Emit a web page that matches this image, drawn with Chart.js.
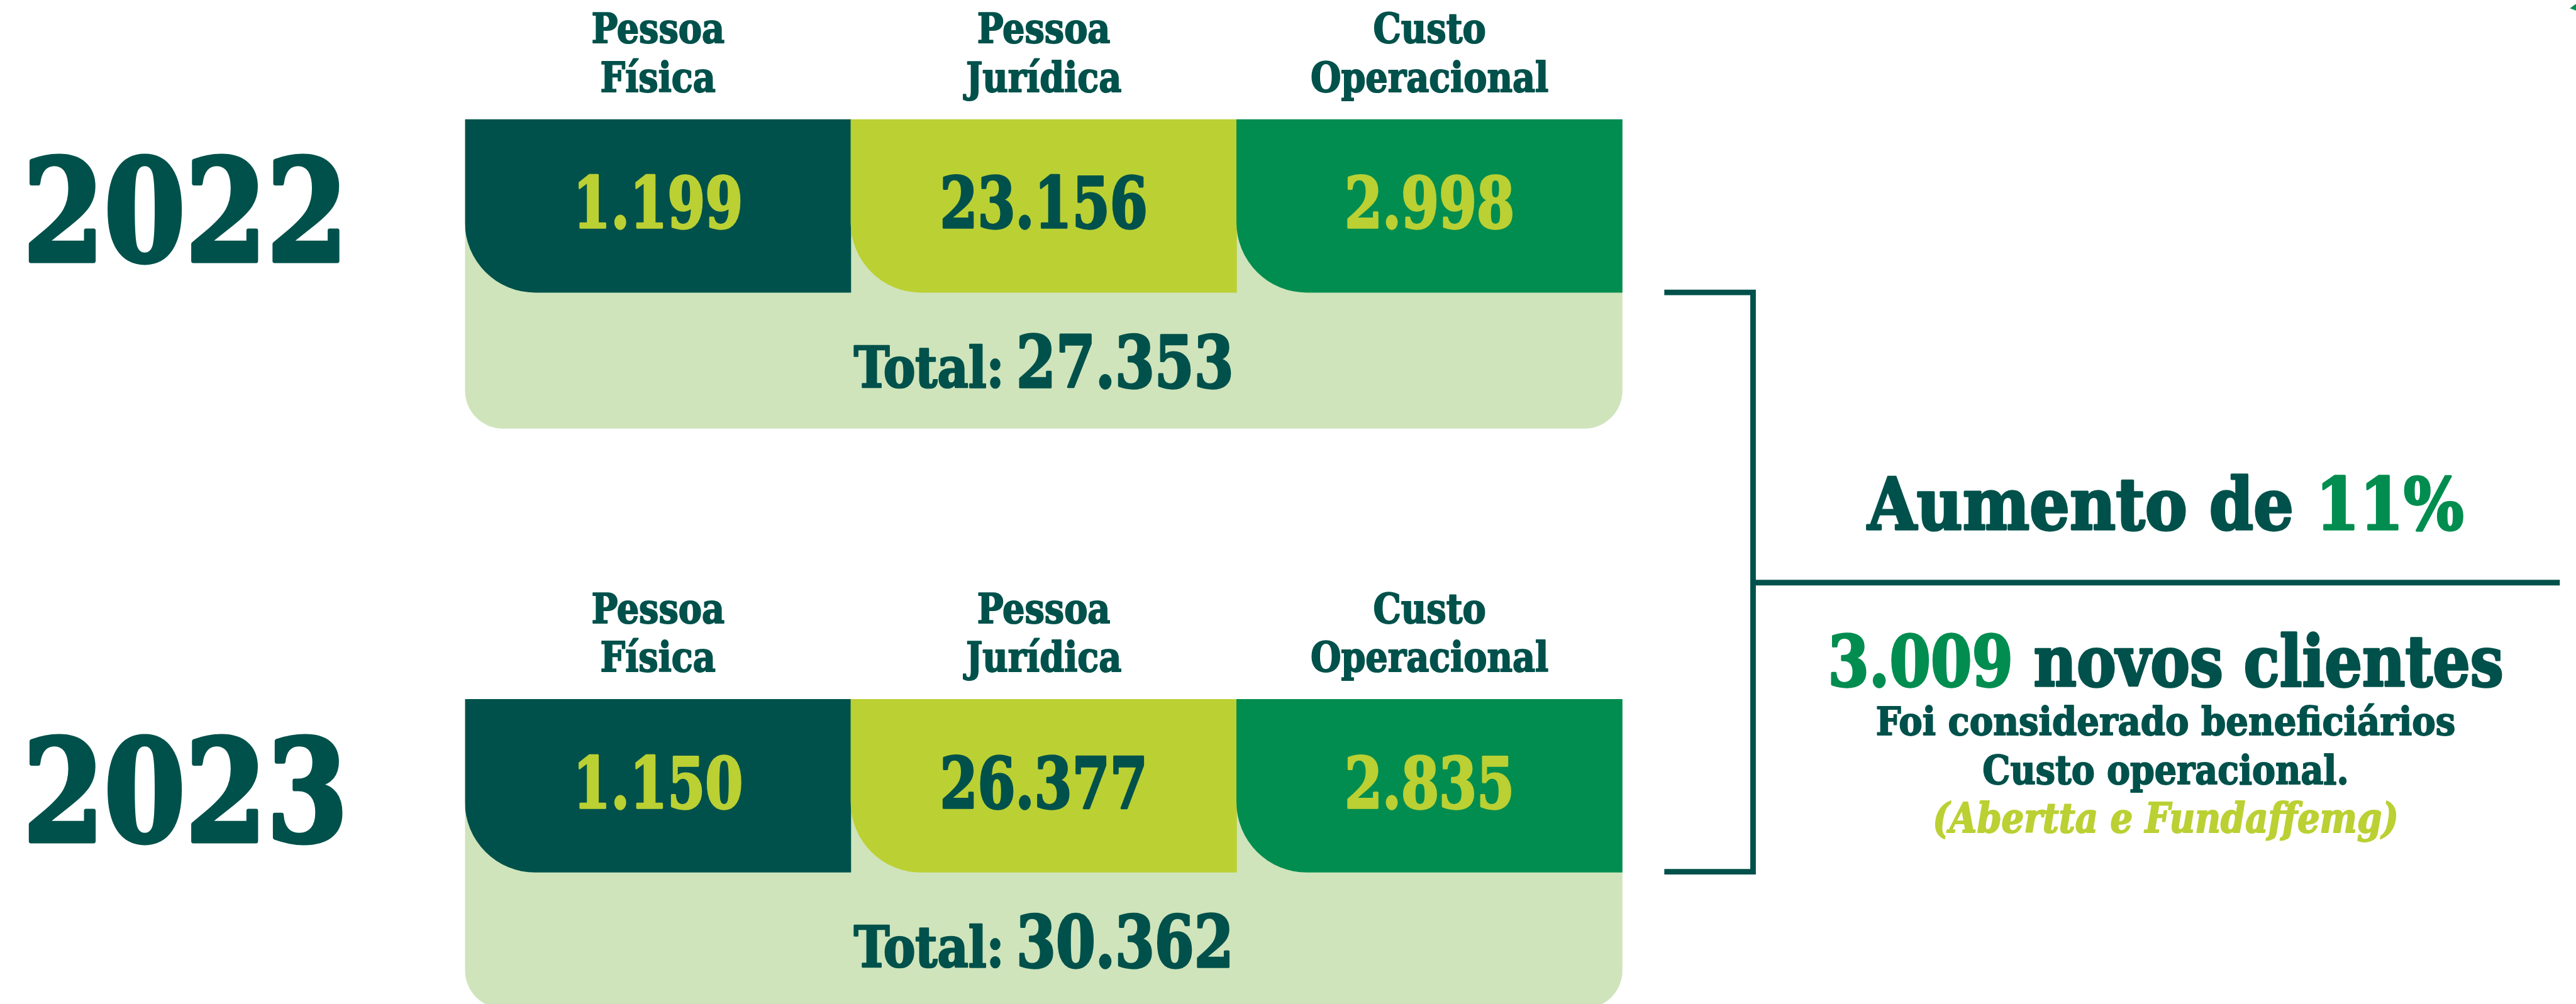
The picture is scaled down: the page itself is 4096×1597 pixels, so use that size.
<!DOCTYPE html>
<html>
<head>
<meta charset="utf-8">
<script src="https://cdn.jsdelivr.net/npm/chart.js@4"></script>
<style>
  html, body { margin: 0; padding: 0; background: #fff; overflow: hidden; }
  canvas { display: block; }
</style>
</head>
<body>
<canvas id="chart" width="4096" height="1597"></canvas>
<script>
const categories = [['Pessoa', 'Física'], ['Pessoa', 'Jurídica'], ['Custo', 'Operacional']];
const years = ['2022', '2023'];
const values2022 = [1199, 23156, 2998];
const values2023 = [1150, 26377, 2835];
const totals = [27353, 30362];
const growth = '11%';
const newClients = 3009;

const S = 4096 / 4614;
const DARK = '#00514b', LIME = '#bbd033', GREEN = '#008d4f', LIGHT = '#cfe4bb';
const cellColors = [DARK, LIME, GREEN];
const valueColors = [LIME, DARK, LIME];
const FONT = '"DejaVu Serif Condensed", "DejaVu Serif", serif';
const HEAVY = 0.03; // extra stroke, as a share of font size, to get the heavy slab look

// layout in reference pixels (scaled by S when drawn)
const rowTop = [214, 1253];
const cellH = 310, boxH = 554;

const rowValues = [values2022, values2023];
const fmt = n => String(n).replace(/\B(?=(\d{3})+(?!\d))/g, '.');

const styles = {
  year:  { size: 254, ref: '2022', refW: 582 },
  head:  { size: 74, ref: 'Operacional', refW: 426 },
  value: { size: 126, ref: '23.156', refW: 372 },
  totL:  { size: 101, ref: 'Total:', refW: 269 },
  totN:  { size: 129, ref: '27.353', refW: 389 }
};

function fontOf(size, italic) {
  return (italic ? 'italic ' : '') + 'bold ' + (size * S) + 'px ' + FONT;
}

function squeeze(ctx, st) {
  ctx.font = fontOf(st.size, st.italic);
  return st.refW * S / ctx.measureText(st.ref).width;
}

function heavyText(ctx, text, x, y, color, size) {
  ctx.fillStyle = color;
  ctx.strokeStyle = color;
  ctx.lineWidth = size * S * HEAVY;
  ctx.lineJoin = 'round';
  ctx.fillText(text, x, y);
  ctx.strokeText(text, x, y);
}

// draws one word with the style's horizontal squeeze, returns drawn width
function word(ctx, text, x, base, st, color, align) {
  const sx = squeeze(ctx, st);
  ctx.save();
  ctx.font = fontOf(st.size, st.italic);
  ctx.textAlign = align || 'center';
  ctx.textBaseline = 'alphabetic';
  ctx.translate(x, base);
  ctx.scale(sx, 1);
  heavyText(ctx, text, 0, 0, color, st.size);
  const w = ctx.measureText(text).width * sx;
  ctx.restore();
  return w;
}

function measure(ctx, text, st) {
  const sx = squeeze(ctx, st);
  return ctx.measureText(text).width * sx;
}

// a line made of coloured pieces, fitted to a width (ref px), centred on cx
function line(ctx, segs, cx, base, size, w, italic) {
  ctx.save();
  ctx.font = fontOf(size, italic);
  const nat = ctx.measureText(segs.map(s => s[0]).join('')).width;
  ctx.translate((cx - w / 2) * S, base * S);
  ctx.scale(w * S / nat, 1);
  ctx.textAlign = 'left';
  ctx.textBaseline = 'alphabetic';
  let x = 0;
  segs.forEach(([t, c]) => {
    heavyText(ctx, t, x, 0, c, size);
    x += ctx.measureText(t).width;
  });
  ctx.restore();
}

const panel = {
  id: 'panel',
  beforeDatasetsDraw(chart) {
    const { ctx, chartArea, scales: { y } } = chart;
    ctx.save();
    ctx.fillStyle = LIGHT;
    rowTop.forEach(t => {
      const top = y.getPixelForValue(t);
      const bot = y.getPixelForValue(t + boxH);
      ctx.beginPath();
      ctx.roundRect(chartArea.left, top, chartArea.width, bot - top, [0, 0, 68 * S, 68 * S]);
      ctx.fill();
    });
    ctx.restore();
  },
  afterDatasetsDraw(chart) {
    const { ctx, chartArea, scales: { x, y } } = chart;
    const midX = (chartArea.left + chartArea.right) / 2;

    years.forEach((yr, i) => {
      const t = rowTop[i];
      word(ctx, yr, 332 * S, y.getPixelForValue(t + 254), styles.year, DARK);

      categories.forEach((cat, j) => {
        const cx = x.getPixelForValue(j);
        word(ctx, cat[0], cx, y.getPixelForValue(t - 137), styles.head, DARK);
        word(ctx, cat[1], cx, y.getPixelForValue(t - 50), styles.head, DARK);
        word(ctx, fmt(rowValues[i][j]), cx, y.getPixelForValue(t + 194), styles.value, valueColors[j]);
      });

      const base = y.getPixelForValue(t + 480);
      const lbl = 'Total:';
      const num = fmt(totals[i]);
      const gap = 22 * S;
      const wL = measure(ctx, lbl, styles.totL);
      const wN = measure(ctx, num, styles.totN);
      const left = midX - (wL + gap + wN) / 2;
      word(ctx, lbl, left, base, styles.totL, DARK, 'left');
      word(ctx, num, left + wL + gap, base, styles.totN, DARK, 'left');
    });

    // bracket joining the two years
    ctx.save();
    ctx.strokeStyle = DARK;
    ctx.lineWidth = 10 * S;
    ctx.lineCap = 'butt';
    ctx.beginPath();
    ctx.moveTo(2981 * S, 524 * S);
    ctx.lineTo(3140 * S, 524 * S);
    ctx.lineTo(3140 * S, 1562 * S);
    ctx.lineTo(2981 * S, 1562 * S);
    ctx.moveTo(3140 * S, 1044 * S);
    ctx.lineTo(4585 * S, 1044 * S);
    ctx.stroke();

    ctx.fillStyle = GREEN;
    ctx.beginPath();
    ctx.moveTo(4603 * S, 15 * S);
    ctx.lineTo(4614 * S, 7 * S);
    ctx.lineTo(4614 * S, 19 * S);
    ctx.closePath();
    ctx.fill();
    ctx.restore();

    const cx = 3879;
    line(ctx, [['Aumento de ', DARK], [growth, GREEN]], cx, 948, 129, 1068);
    line(ctx, [[fmt(newClients), GREEN], [' novos clientes', DARK]], cx, 1229, 126, 1210);
    line(ctx, [['Foi considerado beneficiários', DARK]], cx, 1317, 69, 1038);
    line(ctx, [['Custo operacional.', DARK]], cx, 1405, 71, 656);
    line(ctx, [['(Abertta e Fundaffemg)', LIME]], cx, 1492, 74, 834, true);
  }
};

const datasets = years.map((yr, i) => ({
  label: yr,
  data: rowValues[i].map(() => [rowTop[i], rowTop[i] + cellH]),
  backgroundColor: cellColors,
  borderWidth: 0,
  borderSkipped: false,
  borderRadius: { topLeft: 0, topRight: 0, bottomLeft: 126 * S, bottomRight: 0 },
  barPercentage: 1,
  categoryPercentage: 1,
  grouped: false
}));

new Chart(document.getElementById('chart'), {
  type: 'bar',
  data: { labels: categories, datasets },
  options: {
    responsive: false,
    animation: false,
    devicePixelRatio: 1,
    layout: { padding: { left: 833 * S, right: (4614 - 2906) * S, top: 0, bottom: 0 } },
    plugins: { legend: { display: false }, tooltip: { enabled: false } },
    scales: {
      x: { type: 'category', display: false, offset: true },
      y: { type: 'linear', min: 0, max: 1799, reverse: true, display: false }
    }
  },
  plugins: [panel]
});
</script>
</body>
</html>
